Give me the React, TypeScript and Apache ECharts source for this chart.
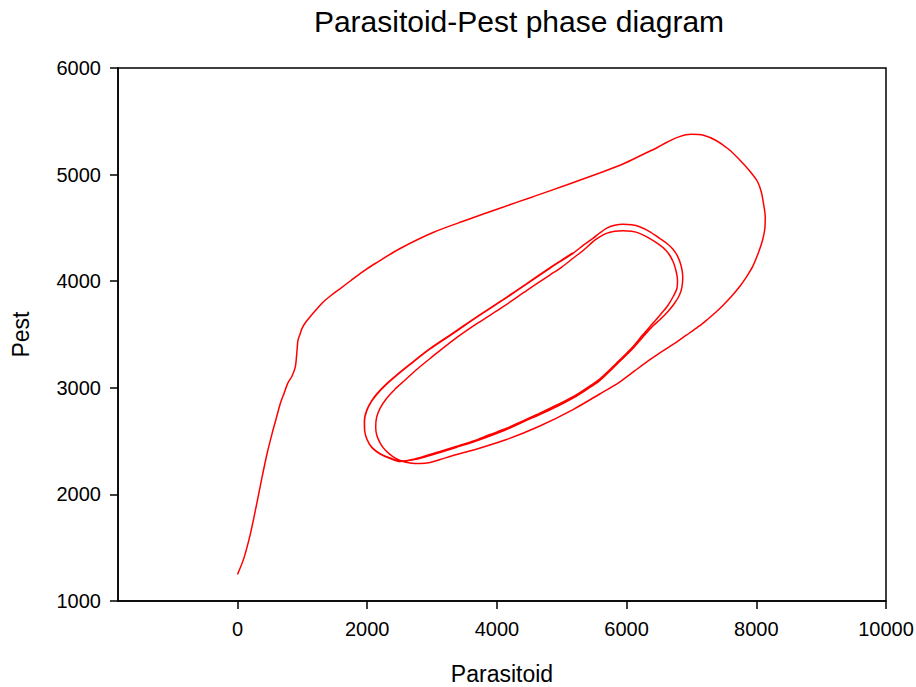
import React, { useEffect, useRef } from "react";
import * as echarts from "echarts";

const titleText = "Parasitoid-Pest phase diagram";
const xName = "Parasitoid";
const yName = "Pest";
const xTicks = [0, 2000, 4000, 6000, 8000, 10000];
const yTicks = [1000, 2000, 3000, 4000, 5000, 6000];

// Trajectory: parasitoid (x) and pest (y), in time order
const parasitoid = [
  // transient + first large loop
  0, 97, 200, 292, 380, 457, 534, 600, 661, 720, 774, 841, 892, 918, 933, 964, 995, 1054, 1123, 1215,
  1323, 1431, 1585, 1739, 1923, 2123, 2508, 3015, 3534, 4046, 4559, 5072, 5585, 5943, 6251, 6446, 6631,
  6816, 6995, 7185, 7380, 7569, 7738, 7892, 8020, 8077, 8112, 8138, 8131, 8097, 8031, 7943, 7846, 7738,
  7615, 7492, 7380, 7246, 7123, 6969, 6815, 6662, 6508, 6354, 6123, 5892, 5585, 5174, 4662, 4149, 3636,
  3380, 3123, 2969, 2815, 2662,
  // second loop
  2508, 2385, 2277, 2200, 2146, 2131, 2146, 2200, 2292, 2431, 2585, 2754, 2969, 3328, 3708, 4097, 4462,
  4816, 5000, 5174, 5339, 5482, 5585, 5688, 5816, 5943, 6077, 6200, 6354, 6508, 6600, 6662, 6723, 6765,
  6785, 6777, 6723, 6631, 6523, 6405, 6246, 6097, 5846, 5585, 5385, 5174, 4923, 4662, 4400, 4149, 3892,
  3636, 3369, 3123, 2892, 2692,
  // third loop
  2508, 2354, 2200, 2077, 2000, 1962, 1958, 1992, 2062, 2154, 2303, 2462, 2662, 2969, 3328, 3708, 4097,
  4462, 4816, 5000, 5174, 5339, 5482, 5585, 5688, 5816, 5943, 6077, 6200, 6354, 6508, 6631, 6712, 6785,
  6842, 6866, 6854, 6816, 6731, 6631, 6508, 6405, 6246, 6097, 5846, 5585, 5385, 5174, 4923, 4662, 4400,
  4149, 3892, 3636, 3369, 3123, 2892, 2692,
  // last partial loop
  2506, 2352, 2198, 2075, 1998, 1960, 1956, 1990, 2060, 2152, 2301, 2460, 2660, 2967, 3326, 3706, 4095,
  4460, 4814, 4998, 5170,
];
const pest = [
  // transient + first large loop
  1250, 1400, 1635, 1900, 2166, 2386, 2573, 2719, 2855, 2952, 3042, 3111, 3198, 3355, 3448, 3503, 3558,
  3617, 3669, 3734, 3805, 3861, 3931, 4002, 4086, 4166, 4307, 4457, 4574, 4685, 4793, 4902, 5015, 5099,
  5189, 5245, 5306, 5356, 5378, 5369, 5320, 5240, 5142, 5038, 4933, 4837, 4724, 4602, 4490, 4387, 4265,
  4137, 4039, 3945, 3856, 3777, 3711, 3641, 3580, 3514, 3448, 3387, 3326, 3261, 3158, 3054, 2942, 2796,
  2642, 2515, 2416, 2374, 2327, 2299, 2290, 2295,
  // second loop
  2318, 2360, 2416, 2482, 2557, 2635, 2726, 2810, 2895, 2989, 3073, 3167, 3275, 3448, 3608, 3761, 3913,
  4058, 4133, 4215, 4293, 4371, 4415, 4449, 4468, 4474, 4468, 4449, 4401, 4340, 4293, 4246, 4175, 4089,
  4011, 3936, 3861, 3767, 3688, 3605, 3495, 3386, 3233, 3083, 2998, 2916, 2839, 2761, 2689, 2620, 2562,
  2501, 2449, 2402, 2360, 2327,
  // third loop
  2309, 2337, 2379, 2435, 2510, 2595, 2689, 2782, 2867, 2942, 3036, 3120, 3219, 3364, 3511, 3669, 3824,
  3974, 4121, 4194, 4262, 4340, 4402, 4452, 4496, 4524, 4534, 4529, 4511, 4466, 4402, 4349, 4302, 4236,
  4143, 4039, 3946, 3871, 3786, 3711, 3636, 3580, 3472, 3369, 3219, 3068, 2984, 2904, 2824, 2749, 2679,
  2609, 2548, 2492, 2440, 2393, 2351, 2323,
  // last partial loop
  2313, 2341, 2383, 2439, 2514, 2599, 2693, 2786, 2871, 2946, 3040, 3124, 3223, 3368, 3515, 3673, 3828,
  3978, 4125, 4198, 4266,
];

const FONT = "'Liberation Sans', Arial, sans-serif";

export default function App() {
  const ref = useRef<HTMLDivElement>(null);
  useEffect(() => {
    if (!ref.current) return;
    const chart = echarts.init(ref.current, undefined, { renderer: "svg" });
    const data = parasitoid.map((x, i) => [x, pest[i]]);
    chart.setOption({
      animation: false,
      backgroundColor: "#ffffff",
      title: {
        text: titleText,
        left: 514,
        top: 1,
        textAlign: "center",
        textStyle: { fontFamily: FONT, fontSize: 30, fontWeight: "normal", color: "#000" },
      },
      grid: {
        left: 118,
        right: 30,
        top: 68,
        bottom: 86,
        show: true,
        borderColor: "#000",
        borderWidth: 1.5,
        backgroundColor: "transparent",
        containLabel: false,
        outerBoundsMode: "none",
      },
      xAxis: {
        type: "value",
        min: -1843,
        max: 10000,
        name: xName,
        nameLocation: "middle",
        nameGap: 62,
        nameTextStyle: { fontFamily: FONT, fontSize: 23, color: "#000", lineHeight: 22 },
        axisLine: { show: true, onZero: false, lineStyle: { color: "#000", width: 1.5 } },
        axisTick: { show: true, inside: false, length: 8, customValues: xTicks, lineStyle: { color: "#000", width: 1.5 } },
        axisLabel: {
          customValues: xTicks,
          margin: 18,
          fontFamily: FONT,
          fontSize: 20,
          color: "#000",
          formatter: (v: number) => String(v),
        },
        splitLine: { show: false },
      },
      yAxis: {
        type: "value",
        min: 1000,
        max: 6000,
        name: yName,
        nameLocation: "middle",
        nameGap: 86,
        nameTextStyle: { fontFamily: FONT, fontSize: 23, color: "#000" },
        axisLine: { show: true, onZero: false, lineStyle: { color: "#000", width: 1.5 } },
        axisTick: { show: true, inside: false, length: 8, customValues: yTicks, lineStyle: { color: "#000", width: 1.5 } },
        axisLabel: {
          customValues: yTicks,
          margin: 17,
          fontFamily: FONT,
          fontSize: 20,
          color: "#000",
          formatter: (v: number) => String(v),
        },
        splitLine: { show: false },
      },
      series: [
        {
          type: "line",
          data,
          showSymbol: false,
          smooth: 0.3,
          lineStyle: { color: "#ff0000", width: 1.5 },
          silent: true,
        },
      ],
    });
    return () => chart.dispose();
  }, []);
  return (
    <div
      ref={ref}
      style={{ position: "fixed", left: 0, top: 0, width: 916, height: 687, background: "#fff" }}
    />
  );
}
